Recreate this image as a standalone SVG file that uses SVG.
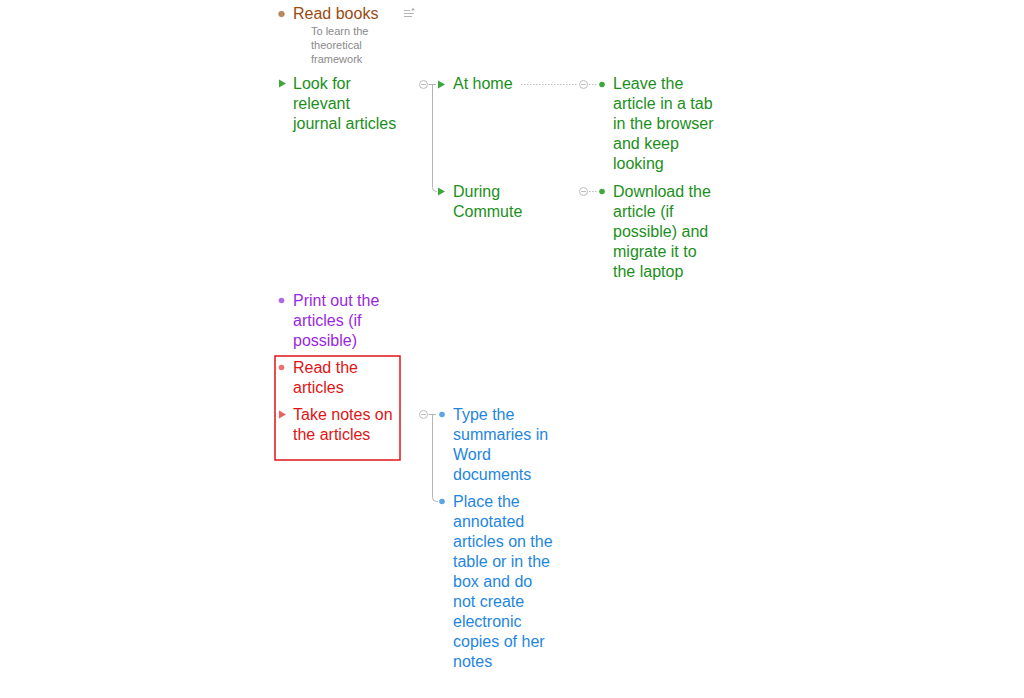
<svg xmlns="http://www.w3.org/2000/svg" width="1024" height="698" viewBox="0 0 1024 698">
<style>
text{font-family:"Liberation Sans",Arial,sans-serif;font-size:16px}
.note{font-size:11px;fill:#8a8a8a}
.brown{fill:#9a4a12}.green{fill:#1b8f1b}.purple{fill:#9a28e0}.red{fill:#e01515}.blue{fill:#1f86e0}
.col{fill:#fff;stroke:#bdbdbd;stroke-width:1}
.colm{stroke:#bdbdbd;stroke-width:1}
.br{fill:none;stroke:#b5b5b5;stroke-width:1}
.dot{fill:none;stroke:#bdbdbd;stroke-width:1;stroke-dasharray:1.5 1.5}
</style>
<rect width="1024" height="698" fill="#fff"/>
<g id="connectors">
<path class="br" d="M428.5 84.5H436M432.5 84.5V187.5Q432.5 191.5 436.5 191.5H437"/>
<path class="dot" d="M521 84.5H577M589 84.5H598M589 191.5H598"/>
<path class="br" d="M428.5 414.5H436M432.5 414.5V497.5Q432.5 501.5 436.5 501.5H438"/>
</g>
<g id="n-read-books">
<circle cx="281.5" cy="14" r="2.8" fill="#b88a5c" stroke="#a0724a" stroke-width="0.6"/>
<text x="293" y="19" class="brown">Read books</text>
<text class="note"><tspan x="311" y="35">To learn the</tspan><tspan x="311" y="49">theoretical</tspan><tspan x="311" y="63">framework</tspan></text>
<g stroke="#b5b5b5" stroke-width="1"><path d="M404 10.5H410M404 13.5H414M404 16.5H412"/></g>
<path d="M411 10.5L413 7.5L415 10.5Z" fill="#b5b5b5"/>
</g>
<g id="n-look">
<path d="M279 79.5L286 83.5L279 87.5Z" fill="#3ca83c"/>
<text class="green"><tspan x="293" y="89">Look for</tspan><tspan x="293" y="109">relevant</tspan><tspan x="293" y="129">journal articles</tspan></text>
<circle class="col" cx="423.5" cy="84.5" r="4"/><path class="colm" d="M421 84.5H426"/>
</g>
<g id="n-home">
<path d="M438 80.5L445 84.5L438 88.5Z" fill="#3ca83c"/>
<text x="453" y="89" class="green">At home</text>
<circle class="col" cx="583.5" cy="84.5" r="4"/><path class="colm" d="M581 84.5H586"/>
</g>
<g id="n-leave">
<circle cx="602" cy="84.5" r="2.8" fill="#3ca83c"/>
<text class="green"><tspan x="613" y="89">Leave the</tspan><tspan x="613" y="109">article in a tab</tspan><tspan x="613" y="129">in the browser</tspan><tspan x="613" y="149">and keep</tspan><tspan x="613" y="169">looking</tspan></text>
</g>
<g id="n-commute">
<path d="M438 187.5L445 191.5L438 195.5Z" fill="#3ca83c"/>
<text class="green"><tspan x="453" y="197">During</tspan><tspan x="453" y="217">Commute</tspan></text>
<circle class="col" cx="583.5" cy="191.5" r="4"/><path class="colm" d="M581 191.5H586"/>
</g>
<g id="n-download">
<circle cx="602" cy="191.5" r="2.8" fill="#3ca83c"/>
<text class="green"><tspan x="613" y="197">Download the</tspan><tspan x="613" y="217">article (if</tspan><tspan x="613" y="237">possible) and</tspan><tspan x="613" y="257">migrate it to</tspan><tspan x="613" y="277">the laptop</tspan></text>
</g>
<g id="n-print">
<circle cx="281.5" cy="300.5" r="2.8" fill="#b066e8"/>
<text class="purple"><tspan x="293" y="306">Print out the</tspan><tspan x="293" y="326">articles (if</tspan><tspan x="293" y="346">possible)</tspan></text>
</g>
<rect x="275" y="356" width="125" height="104" fill="none" stroke="#e01515" stroke-width="1.5"/>
<g id="n-read-articles">
<circle cx="281.5" cy="367.5" r="2.8" fill="#ee7070"/>
<text class="red"><tspan x="293" y="373">Read the</tspan><tspan x="293" y="393">articles</tspan></text>
</g>
<g id="n-notes">
<path d="M279 410.5L286 414.5L279 418.5Z" fill="#ee6060"/>
<text class="red"><tspan x="293" y="420">Take notes on</tspan><tspan x="293" y="440">the articles</tspan></text>
<circle class="col" cx="423.5" cy="414.5" r="4"/><path class="colm" d="M421 414.5H426"/>
</g>
<g id="n-type">
<circle cx="442" cy="414.5" r="2.8" fill="#5aa5e8"/>
<text class="blue"><tspan x="453" y="420">Type the</tspan><tspan x="453" y="440">summaries in</tspan><tspan x="453" y="460">Word</tspan><tspan x="453" y="480">documents</tspan></text>
</g>
<g id="n-place">
<circle cx="442" cy="501.5" r="2.8" fill="#5aa5e8"/>
<text class="blue"><tspan x="453" y="507">Place the</tspan><tspan x="453" y="527">annotated</tspan><tspan x="453" y="547">articles on the</tspan><tspan x="453" y="567">table or in the</tspan><tspan x="453" y="587">box and do</tspan><tspan x="453" y="607">not create</tspan><tspan x="453" y="627">electronic</tspan><tspan x="453" y="647">copies of her</tspan><tspan x="453" y="667">notes</tspan></text>
</g>
</svg>
